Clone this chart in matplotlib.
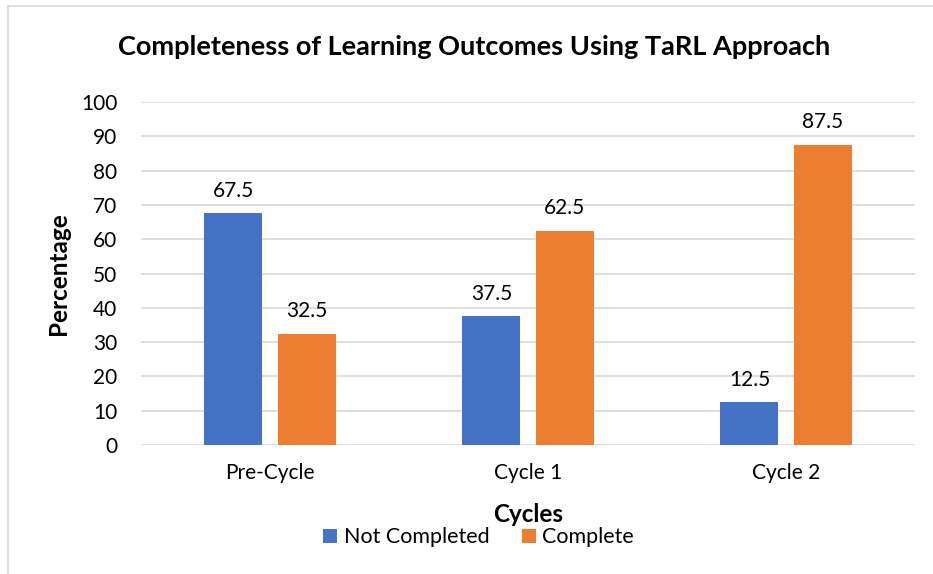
import numpy as np
import matplotlib.pyplot as plt
from matplotlib.patches import Rectangle

categories = ["Pre-Cycle", "Cycle 1", "Cycle 2"]
not_completed = [67.5, 37.5, 12.5]
complete = [32.5, 62.5, 87.5]
series_names = ["Not Completed", "Complete"]

blue = "#4472C4"
orange = "#ED7D31"
plt.rcParams['font.family'] = ['Lato', 'DejaVu Sans']

fig = plt.figure(figsize=(9.33, 5.74), dpi=100)
ax = fig.add_axes([0.151, 0.2247, 0.830, 0.5976])

# light border around the chart area (cropped at right/bottom in the original)
fig.patches.append(Rectangle((8 / 933, -0.05), 1.0, 1 - 6 / 574 + 0.05,
                             transform=fig.transFigure, fill=False,
                             edgecolor="#d9d9d9", linewidth=1.2))

x = np.arange(len(categories))
w = 0.225
off = 0.1425
b1 = ax.bar(x - off, not_completed, w, color=blue, label=series_names[0], zorder=3)
b2 = ax.bar(x + off, complete, w, color=orange, label=series_names[1], zorder=3)

for bars in (b1, b2):
    for r in bars:
        h = r.get_height()
        ax.annotate(f"{h:g}", (r.get_x() + r.get_width() / 2, h),
                    xytext=(0, 9), textcoords="offset points",
                    ha="center", va="bottom", fontsize=15, color="#000000")

ax.set_xlim(-0.5, 2.5)
ax.set_ylim(0, 100)
ax.set_yticks(range(0, 101, 10))
ax.set_xticks(x)
ax.set_xticklabels(categories)
ax.tick_params(axis="both", length=0, labelsize=15, colors="#000000")
ax.tick_params(axis="x", pad=13)
ax.tick_params(axis="y", pad=17)
ax.grid(axis="y", color="#d9d9d9", linewidth=1.2, zorder=0)
for s in ax.spines.values():
    s.set_visible(False)

ax.set_ylabel("Percentage", fontsize=17.5, fontweight="bold", labelpad=8)
ax.set_xlabel("Cycles", fontsize=17.5, fontweight="bold", labelpad=14)
fig.text(0.508, 0.918, "Completeness of Learning Outcomes Using TaRL Approach",
         ha="center", va="center", fontsize=19.5, fontweight="bold")

fig.legend(handles=[b1, b2], loc="center", bbox_to_anchor=(0.513, 0.064), ncol=2,
           frameon=False, fontsize=15.5, handlelength=0.65, handleheight=0.65,
           handletextpad=0.3, columnspacing=1.5)

fig.savefig("out.png", dpi=100)
